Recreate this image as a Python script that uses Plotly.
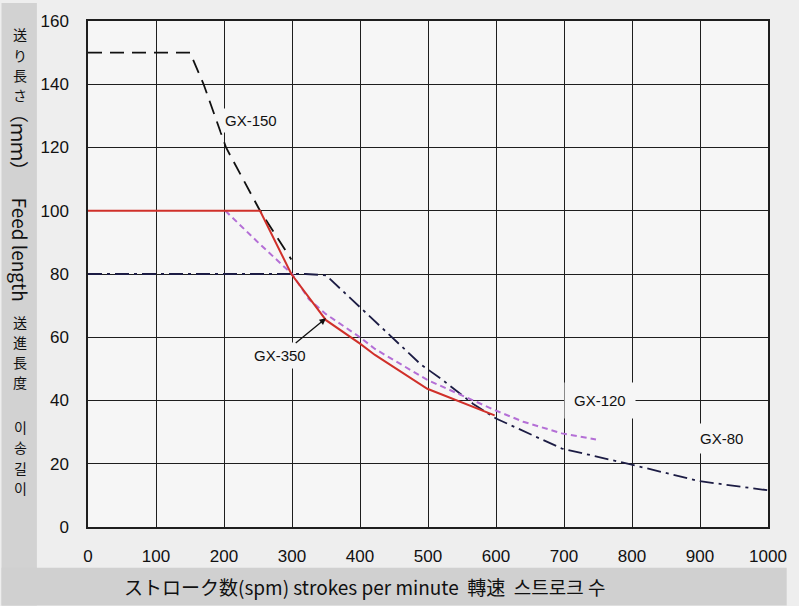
import plotly.graph_objects as go

# ---------------- data ----------------
spm_150 = [0, 150, 170, 203, 253, 299]
feed_150 = [150, 150, 140, 120, 100, 84.6]

spm_80 = [0, 320, 350, 403, 490, 519, 566, 600, 697, 798, 899, 1000]
feed_80 = [80, 80, 79.6, 68.9, 51.3, 46.9, 39, 34.3, 24.8, 19.8, 14.5, 11.6]

spm_350 = [0, 253, 299, 350, 400, 422, 499, 547, 598]
feed_350 = [100, 100, 80, 65.4, 58, 54.4, 43.7, 39.6, 35.3]

spm_120 = [202, 250, 300, 325, 350, 400, 422, 499, 600, 640, 697, 747]
feed_120 = [100, 90, 80, 72, 67.3, 60, 56.3, 46.5, 36.8, 33.3, 29.6, 27.7]

x_ticks = [0, 100, 200, 300, 400, 500, 600, 700, 800, 900, 1000]
y_ticks = [0, 20, 40, 60, 80, 100, 120, 140, 160]

x_title = "ストローク数(spm) strokes per minute\u00a0\u00a0轉速\u00a0\u00a0스트로크 수"
# y title pieces: (text, upright?) — upright CJK glyphs are stacked one by one
y_title_parts = [("送", True), ("り", True), ("長", True), ("さ", True),
                 ("（ｍｍ）", False), ("Feed length", False),
                 ("送", True), ("進", True), ("長", True), ("度", True),
                 ("이", True), ("송", True), ("길", True), ("이", True)]
# pixel centres (from the top of the page) of each y-title piece
y_title_centres = [31.5, 51.8, 72.2, 92.5, 140, 248,
                   320.5, 340.8, 361.2, 381.5, 426.5, 446.8, 467.2, 487.5]

# ---------------- geometry ----------------
W, H = 799, 606
L, R, T, B = 88, 19, 18, 79
PW, PH = W - L - R, H - T - B


def px_x(p):
    return (p - L) / PW


def px_y(p):
    return (H - B - p) / PH


PLOT_BG = "#f6f6f6"
GRID = "#1e1e1e"

fig = go.Figure()

fig.add_trace(go.Scatter(x=spm_80, y=feed_80, mode="lines", name="GX-80",
                         line=dict(color="#1c1c44", width=1.8, dash="14px,5px,3px,5px")))
fig.add_trace(go.Scatter(x=spm_150, y=feed_150, mode="lines", name="GX-150",
                         line=dict(color="#111111", width=1.8, dash="14px,8px")))
fig.add_trace(go.Scatter(x=spm_120, y=feed_120, mode="lines", name="GX-120",
                         line=dict(color="#b46fd6", width=2, dash="6px,4px")))
fig.add_trace(go.Scatter(x=spm_350, y=feed_350, mode="lines", name="GX-350",
                         line=dict(color="#d0302a", width=2)))

label_font = dict(family="Liberation Sans, Arial, sans-serif", size=15, color="#111")
annotations = [
    dict(x=196, y=128.6, xref="x", yref="y", text="GX-150", showarrow=False,
         xanchor="left", yanchor="middle", font=label_font,
         bgcolor=PLOT_BG, borderpad=3),
    dict(x=350, y=66, xref="x", yref="y", ax=282, ay=54.1, axref="x", ayref="y",
         text="GX-350", showarrow=True, arrowhead=2, arrowsize=1, arrowwidth=1.3,
         arrowcolor="#111", standoff=0, font=label_font,
         bgcolor=PLOT_BG, borderpad=4),
    dict(x=753, y=40, xref="x", yref="y", text="GX-120", showarrow=False,
         xanchor="center", yanchor="middle", font=label_font,
         bgcolor=PLOT_BG, borderpad=9),
    dict(x=931, y=28.1, xref="x", yref="y", text="GX-80", showarrow=False,
         xanchor="center", yanchor="middle", font=label_font,
         bgcolor=PLOT_BG, borderpad=6),
    dict(x=px_x(123), y=px_y(587), xref="paper", yref="paper", text=x_title,
         showarrow=False, xanchor="left", yanchor="middle",
         font=dict(family="Noto Sans CJK JP, Noto Sans, sans-serif", size=19, color="#111")),
]

for (txt, upright), cy in zip(y_title_parts, y_title_centres):
    annotations.append(dict(
        x=px_x(19), y=px_y(cy), xref="paper", yref="paper", text=txt,
        showarrow=False, xanchor="center", yanchor="middle",
        textangle=0 if upright else 90,
        font=dict(family="Noto Sans CJK JP, Noto Sans, sans-serif",
                  size=14 if upright else 19, color="#111")))

shapes = [
    dict(type="rect", xref="paper", yref="paper", layer="below",
         x0=px_x(0), x1=px_x(36), y0=px_y(H), y1=px_y(0),
         fillcolor="#d2d2d2", line=dict(width=0)),
    dict(type="rect", xref="paper", yref="paper", layer="below",
         x0=px_x(0), x1=px_x(W), y0=px_y(H), y1=px_y(568),
         fillcolor="#d0d0d0", line=dict(width=0)),
]

tick_font = dict(family="Liberation Sans, Arial, sans-serif", size=17, color="#111")

fig.update_layout(
    width=W, height=H,
    margin=dict(l=L, r=R, t=T, b=B),
    paper_bgcolor="#eeeeee",
    plot_bgcolor=PLOT_BG,
    showlegend=False,
    annotations=annotations,
    shapes=shapes,
    xaxis=dict(range=[0, 1000], tickvals=x_ticks, ticktext=[str(v) for v in x_ticks],
               showgrid=True, gridcolor=GRID, gridwidth=1.2, zeroline=False,
               showline=True, linecolor=GRID, linewidth=1.5, mirror=True,
               ticks="", tickfont=tick_font, ticklabelstandoff=13),
    yaxis=dict(range=[0, 160], tickvals=y_ticks, ticktext=[str(v) for v in y_ticks],
               showgrid=True, gridcolor=GRID, gridwidth=1.2, zeroline=False,
               showline=True, linecolor=GRID, linewidth=1.5, mirror=True,
               ticks="", tickfont=tick_font, ticklabelstandoff=14),
)

fig.write_html("out.html",
               config={"displayModeBar": False},
               post_script="document.body.style.margin='0px';"
                           "document.body.style.overflow='hidden';")
